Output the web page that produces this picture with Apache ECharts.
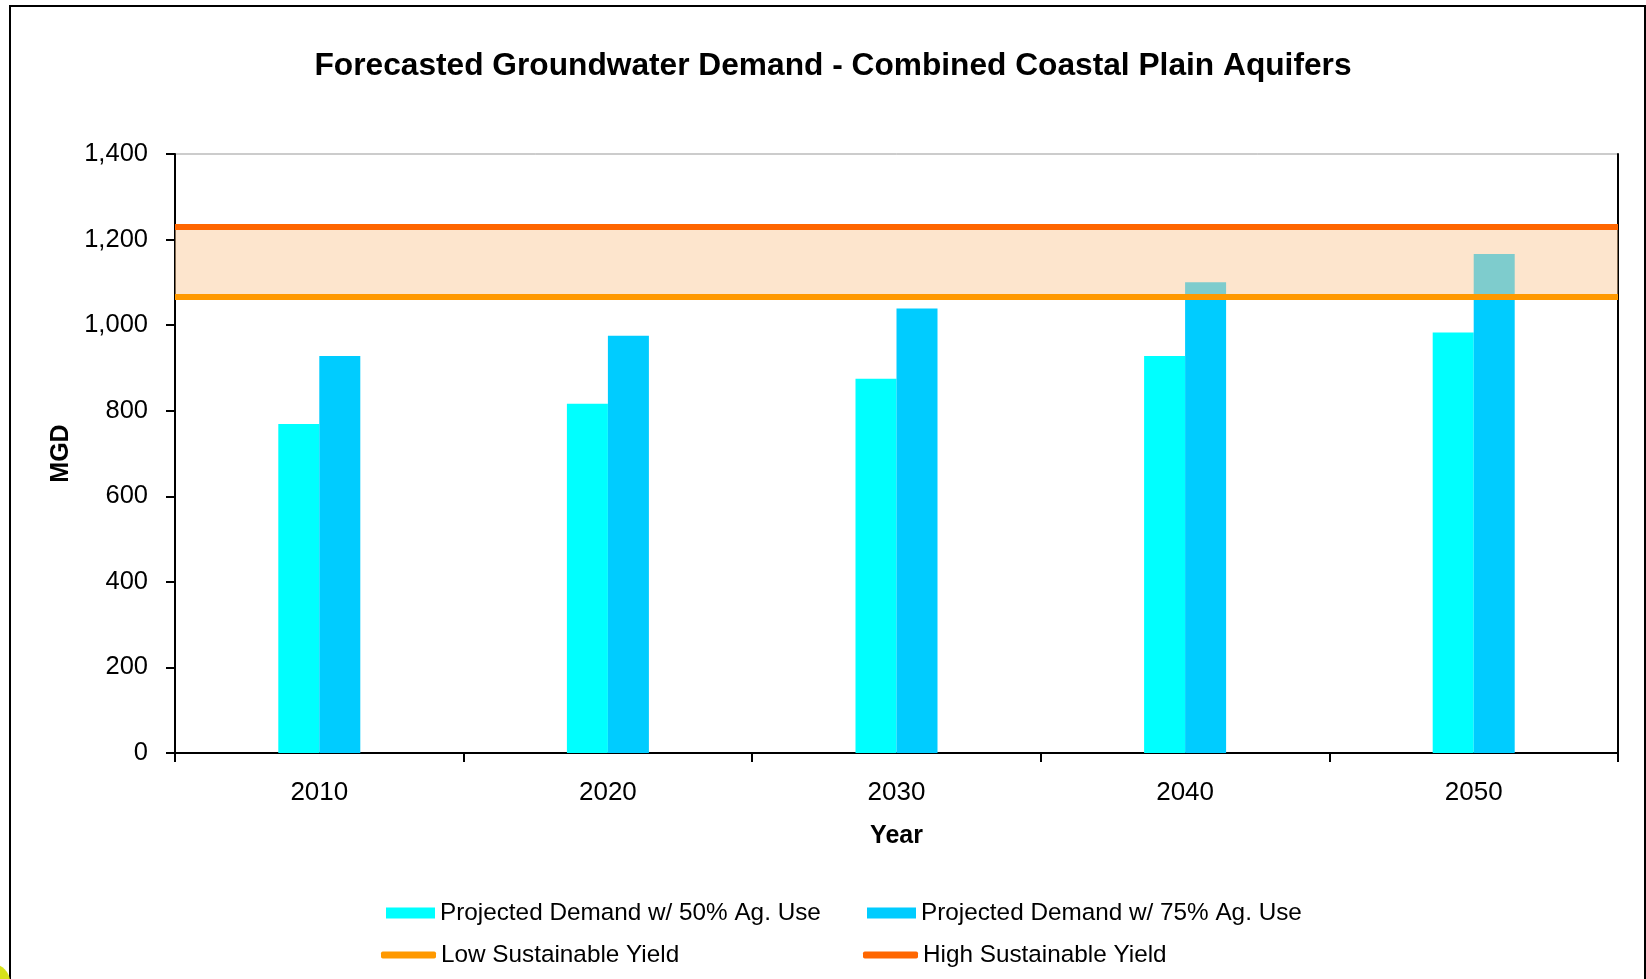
<!DOCTYPE html>
<html>
<head>
<meta charset="utf-8">
<title>Forecasted Groundwater Demand</title>
<script src="https://cdn.jsdelivr.net/npm/echarts@6/dist/echarts.min.js"></script>
<style>
  html, body { margin: 0; padding: 0; background: #fff; }
  #chart { width: 1646px; height: 979px; }
</style>
</head>
<body>
<div id="chart"></div>
<script>
// data
const years = ["2010", "2020", "2030", "2040", "2050"];
const demand50 = [769, 816, 875, 928, 983];
const demand75 = [928, 975, 1039, 1100, 1166];
const lowYield = 1066;
const highYield = 1229;
const yTicks = [0, 200, 400, 600, 800, 1000, 1200, 1400];

const FONT = "'Liberation Sans', Arial, sans-serif";

const chart = echarts.init(document.getElementById("chart"));

// one legend per item so the two rows line up like the original
function legendAt(name, left, top, isLine) {
  return {
    data: [name],
    left: left,
    top: top,
    icon: isLine ? "roundRect" : "rect",
    itemWidth: isLine ? 55 : 49,
    itemHeight: isLine ? 7 : 11,
    itemGap: 0,
    textStyle: { color: "#000", fontSize: 24.3, fontFamily: FONT },
    selectedMode: false,
  };
}

chart.setOption({
  animation: false,
  backgroundColor: "#fff",
  title: {
    text: "Forecasted Groundwater Demand - Combined Coastal Plain Aquifers",
    left: 828,
    top: 45,
    textAlign: "center",
    textStyle: { color: "#000", fontSize: 31.7, fontWeight: "bold", fontFamily: FONT },
  },
  legend: [
    legendAt("Projected Demand w/ 50% Ag. Use", 381, 896, false),
    legendAt("Projected Demand w/ 75% Ag. Use", 862, 896, false),
    legendAt("Low Sustainable Yield", 376, 938, true),
    legendAt("High Sustainable Yield", 858, 938, true),
  ],
  grid: {
    left: 175,
    right: 28,
    top: 154,
    bottom: 226,
    show: true,
    borderColor: "#999",
    borderWidth: 1,
  },
  xAxis: {
    type: "category",
    data: years,
    name: "Year",
    nameLocation: "middle",
    nameGap: 71,
    nameTextStyle: { color: "#000", fontSize: 25, fontWeight: "bold", fontFamily: FONT },
    axisLine: { lineStyle: { color: "#000", width: 2 } },
    axisTick: { show: true, length: 9, lineStyle: { color: "#000", width: 2 } },
    axisLabel: { color: "#000", fontSize: 26, fontFamily: FONT, margin: 27 },
    splitLine: { show: false },
  },
  yAxis: [
    {
      type: "value",
      min: yTicks[0],
      max: yTicks[yTicks.length - 1],
      interval: yTicks[1] - yTicks[0],
      name: "MGD",
      nameLocation: "middle",
      nameGap: 98,
      nameRotate: 90,
      nameTextStyle: { color: "#000", fontSize: 25, fontWeight: "bold", fontFamily: FONT },
      axisLine: { show: true, lineStyle: { color: "#000", width: 2 } },
      axisTick: { show: true, length: 9, lineStyle: { color: "#000", width: 2 } },
      axisLabel: {
        color: "#000",
        fontSize: 25.5,
        fontFamily: FONT,
        margin: 27,
        formatter: (v) => v.toLocaleString("en-US"),
      },
      splitLine: { show: false },
    },
    {
      // black right edge of the plot
      type: "value",
      position: "right",
      min: yTicks[0],
      max: yTicks[yTicks.length - 1],
      interval: yTicks[1] - yTicks[0],
      axisLine: { show: true, lineStyle: { color: "#000", width: 2 } },
      axisTick: { show: false },
      axisLabel: { show: false },
      splitLine: { show: false },
    },
  ],
  series: [
    {
      name: "Projected Demand w/ 50% Ag. Use",
      type: "bar",
      data: demand50,
      barWidth: 41,
      barGap: "0%",
      itemStyle: { color: "#00FFFF" },
      z: 2,
    },
    {
      name: "Projected Demand w/ 75% Ag. Use",
      type: "bar",
      data: demand75,
      barWidth: 41,
      itemStyle: { color: "#00CCFF" },
      z: 2,
    },
    {
      name: "Low Sustainable Yield",
      type: "line",
      data: [],
      itemStyle: { color: "#FF9900" },
      lineStyle: { color: "#FF9900", width: 6 },
      markArea: {
        silent: true,
        z: 3,
        itemStyle: { color: "rgba(251, 203, 155, 0.5)" },
        data: [[{ yAxis: lowYield }, { yAxis: highYield }]],
      },
      markLine: {
        silent: true,
        symbol: "none",
        label: { show: false },
        lineStyle: { color: "#FF9900", width: 6, type: "solid" },
        data: [{ yAxis: lowYield }],
      },
    },
    {
      name: "High Sustainable Yield",
      type: "line",
      data: [],
      itemStyle: { color: "#FF6600" },
      lineStyle: { color: "#FF6600", width: 6 },
      markLine: {
        silent: true,
        symbol: "none",
        label: { show: false },
        lineStyle: { color: "#FF6600", width: 6, type: "solid" },
        data: [{ yAxis: highYield }],
      },
    },
  ],
  graphic: [
    {
      type: "rect",
      shape: { x: 10, y: 6, width: 1635, height: 1000 },
      style: { fill: "none", stroke: "#000", lineWidth: 2 },
      z: 100,
    },
    {
      type: "circle",
      shape: { cx: -8, cy: 982, r: 18 },
      style: { fill: "#D7E21A" },
      z: 100,
    },
  ],
});

window.addEventListener("resize", () => chart.resize());
</script>
</body>
</html>
